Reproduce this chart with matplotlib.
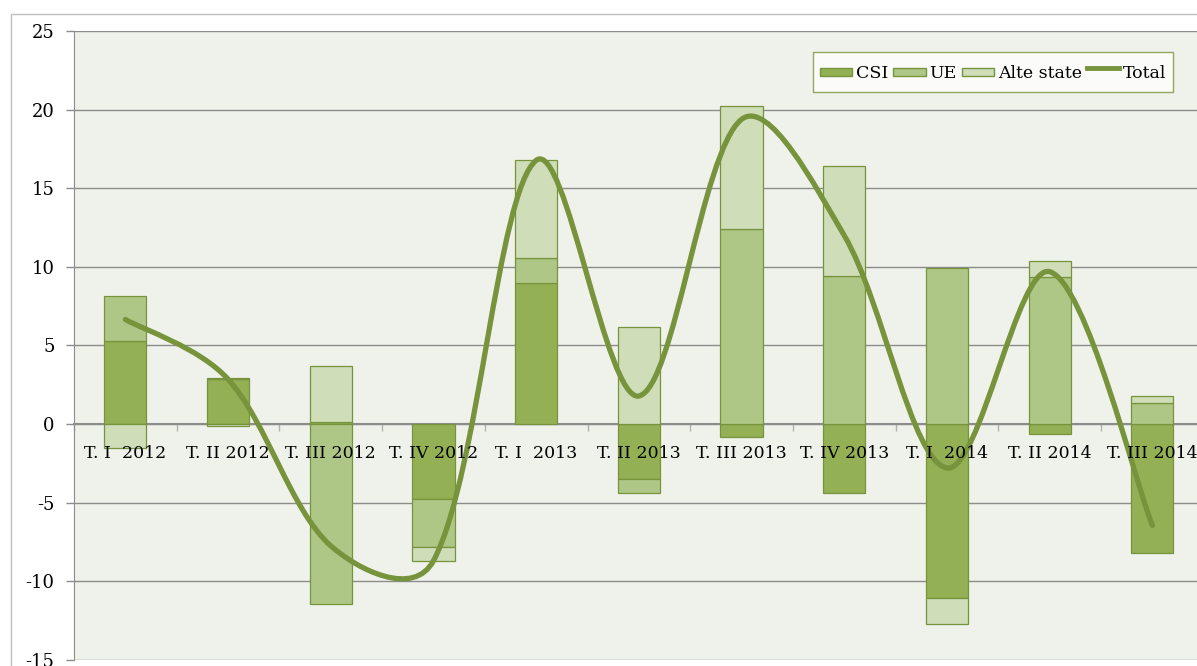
import matplotlib
matplotlib.use("Agg")
import matplotlib.pyplot as plt
import numpy as np
from matplotlib.path import Path
from matplotlib.patches import PathPatch, Rectangle, Patch
from matplotlib.lines import Line2D
from matplotlib.legend_handler import HandlerPatch

categories = ["T. I  2012", "T. II 2012", "T. III 2012", "T. IV 2012", "T. I  2013",
              "T. II 2013", "T. III 2013", "T. IV 2013", "T. I  2014", "T. II 2014", "T. III 2014"]
csi = [5.3, 2.85, 0.15, -4.77, 8.95, -3.5, -0.85, -4.4, -11.09, -0.66, -8.23]
ue = [2.85, 0.1, -11.45, -3.08, 1.59, -0.91, 12.38, 9.41, 9.92, 9.33, 1.36]
alte = [-1.5, -0.1, 3.55, -0.85, 6.23, 6.19, 7.85, 6.98, -1.63, 1.02, 0.42]
total = [6.65, 2.85, -7.75, -8.7, 16.77, 1.78, 19.38, 11.99, -2.8, 9.69, -6.45]
yticks = [25, 20, 15, 10, 5, 0, -5, -10, -15]

c_csi = "#93b054"
c_ue = "#afc786"
c_alte = "#cfddb9"
c_edge = "#77933c"
c_line = "#77933c"

W, H = 1197, 666
fig = plt.figure(figsize=(W / 100, H / 100), dpi=100)
fig.patch.set_facecolor("white")
# outer frame
fig.patches.append(Rectangle((11 / W, -0.1), 1.2, (H - 14) / H + 0.1, transform=fig.transFigure,
                             fill=False, edgecolor="#bfbfbf", linewidth=1.0))

left_px, right_px = 74, 74 + 11 * 102.7
top_px, bot_px = 31, 659.8
ax = fig.add_axes([left_px / W, (H - bot_px) / H, (right_px - left_px) / W, (bot_px - top_px) / H])
ax.set_facecolor("#eff2ea")

x = np.arange(len(categories))
bw = 0.41

def stack(vals_list, colors):
    pos = np.zeros(len(x))
    neg = np.zeros(len(x))
    for vals, col in zip(vals_list, colors):
        vals = np.array(vals, dtype=float)
        bottoms = np.where(vals >= 0, pos, neg)
        ax.bar(x, vals, bw, bottom=bottoms, color=col, edgecolor=c_edge, linewidth=0.9, zorder=3)
        pos = pos + np.where(vals >= 0, vals, 0)
        neg = neg + np.where(vals < 0, vals, 0)

stack([csi, ue, alte], [c_csi, c_ue, c_alte])

ax.set_xlim(-0.5, len(categories) - 0.5)
ax.set_ylim(-15, 25)

# smoothed total line (spreadsheet-style Bezier smoothing through the data points)
pts = np.column_stack([x, total]).astype(float)
sx, sy = 102.7, 15.72  # pixel scale for distance weighting
def dist(a, b):
    return np.hypot((a[0] - b[0]) * sx, (a[1] - b[1]) * sy)
verts = [tuple(pts[0])]
codes = [Path.MOVETO]
n = len(pts)
f = 1.0 / 6.0
for i in range(n - 1):
    p0 = pts[i - 1] if i > 0 else pts[i]
    p1 = pts[i]
    p2 = pts[i + 1]
    p3 = pts[i + 2] if i + 2 < n else pts[i + 1]
    d01, d12, d23 = dist(p0, p1), dist(p1, p2), dist(p2, p3)
    w1 = (2 * d12 / (d01 + d12)) ** 0.6 if d01 > 0 else 1.0
    w2 = (2 * d12 / (d12 + d23)) ** 0.6 if d23 > 0 else 1.0
    c1 = p1 + (p2 - p0) * f * w1
    c2 = p2 - (p3 - p1) * f * w2
    verts += [tuple(c1), tuple(c2), tuple(p2)]
    codes += [Path.CURVE4] * 3
ax.add_patch(PathPatch(Path(verts, codes), fill=False, edgecolor=c_line, linewidth=3.8,
                       capstyle="round", joinstyle="round", zorder=4))

ax.set_yticks(yticks)
ax.set_yticklabels([str(v) for v in yticks], fontfamily="DejaVu Serif", fontsize=13)
ax.yaxis.grid(True, color="#8c8c8c", linewidth=1.0, zorder=1)
ax.set_axisbelow(True)
ax.tick_params(axis="y", length=6, width=1, color="#8c8c8c", pad=8)

ax.spines["top"].set_visible(False)
ax.spines["right"].set_visible(False)
ax.spines["left"].set_color("#8c8c8c")
ax.spines["bottom"].set_position(("data", 0))
ax.spines["bottom"].set_color("#8c8c8c")
ax.spines["bottom"].set_linewidth(1.5)
ax.spines["bottom"].set_zorder(2)

ax.set_xticks(np.arange(len(categories) + 1) - 0.5)
ax.set_xticklabels([])
ax.tick_params(axis="x", length=5, width=1, color="#b0b0b0", direction="out")
for xi, lab in zip(x, categories):
    ax.text(xi, -1.85, lab, ha="center", va="center", fontfamily="DejaVu Serif", fontsize=12.5,
            color="black", zorder=5)

def flat_rect(legend, orig_handle, xdescent, ydescent, width, height, fontsize):
    h = 6.0
    return Rectangle((-xdescent, -ydescent + (height - h) / 2), width, h)

handles = [Patch(facecolor=c_csi, edgecolor=c_edge, label="CSI"),
           Patch(facecolor=c_ue, edgecolor=c_edge, label="UE"),
           Patch(facecolor=c_alte, edgecolor=c_edge, label="Alte state"),
           Line2D([0], [0], color=c_line, linewidth=3.5, label="Total")]
leg = ax.legend(handles=handles, ncol=4, loc="upper left",
                handler_map={Patch: HandlerPatch(patch_func=flat_rect)},
                bbox_to_anchor=((813 - left_px) / (right_px - left_px), 1 - (52 - top_px) / (bot_px - top_px)),
                prop={"family": "DejaVu Serif", "size": 12.5}, frameon=True, fancybox=False,
                handlelength=1.85, handleheight=1.95, handletextpad=0.22, columnspacing=0.3,
                borderpad=0.4, borderaxespad=0)
leg.get_frame().set_edgecolor(c_edge)
leg.get_frame().set_linewidth(1.0)
leg.get_frame().set_facecolor("white")
leg.set_zorder(6)

fig.savefig("out.png", dpi=100)
